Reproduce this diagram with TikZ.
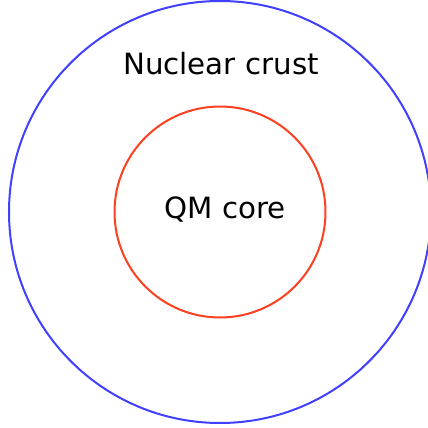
\documentclass[tikz,border=0pt]{standalone}
\usepackage{fontspec}
\setmainfont{DejaVu Sans}
\definecolor{crustblue}{HTML}{4040FF}
\definecolor{corered}{HTML}{FF4020}
\begin{document}
\begin{tikzpicture}[x=1pt,y=-1pt,
  ring/.style={line width=2pt},
  lbl/.style={font=\fontsize{29.3}{34}\selectfont, inner sep=0pt, anchor=base}]
\useasboundingbox (0,0) rectangle (428,428);
\coordinate (c) at (220,212);
\draw[ring, crustblue] (c) circle[radius=211];
\draw[ring, corered] (c) circle[radius=105.5];
\node[lbl] (crust) at (221,74.5) {Nuclear crust};
\node[lbl] (core) at (225,218) {QM core};
\end{tikzpicture}
\end{document}
